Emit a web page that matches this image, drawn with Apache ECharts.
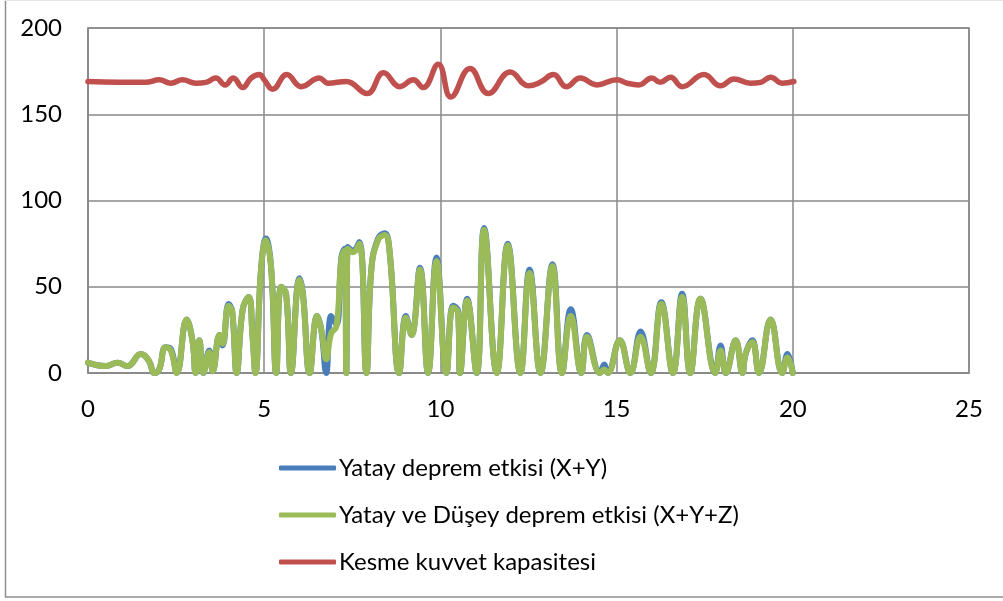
<!DOCTYPE html>
<html lang="tr">

<head>
    <meta charset="UTF-8">
    <title>Kesme kuvveti</title>
    <script src="https://cdn.jsdelivr.net/npm/echarts@6/dist/echarts.min.js"></script>
    <style>
        html, body { margin: 0; padding: 0; background: #fff; }
        #mChart { width: 1003px; height: 601px; }
    </style>
</head>

<body>
    <div id="mChart"></div>

    <script type="text/javascript">
        // [zaman, değer] çiftleri
        const yatay = [
            [0, 6], [0.5, 4], [0.84, 6], [1.12, 4], [1.5, 11], [1.73, 7], [1.88, 0], [2.02, 2], [2.2, 15], [2.35, 14],
            [2.52, 0], [2.8, 31], [2.97, 18], [3.05, 0], [3.16, 19], [3.27, 0], [3.44, 13], [3.54, 1], [3.73, 22], [3.82, 16],
            [3.99, 40], [4.09, 36], [4.22, 0], [4.39, 37], [4.56, 44], [4.67, 21], [4.75, 0], [4.91, 60], [5.05, 78], [5.2, 60],
            [5.34, 0], [5.48, 50], [5.62, 46], [5.76, 0], [6.0, 55], [6.1, 46], [6.29, 0], [6.5, 33], [6.62, 25], [6.76, 0],
            [6.9, 33], [7.05, 28], [7.19, 67], [7.28, 72], [7.33, 0], [7.37, 73], [7.52, 71], [7.7, 76], [7.9, 0], [8.04, 60],
            [8.23, 78], [8.42, 81], [8.56, 70], [8.83, 0], [9.02, 33], [9.18, 22], [9.42, 61], [9.65, 0], [9.89, 67], [10.17, 0],
            [10.36, 39], [10.5, 36], [10.56, 0], [10.76, 43], [11.03, 0], [11.24, 84], [11.6, 0], [11.91, 75], [12.27, 0], [12.53, 60],
            [12.84, 0], [13.18, 63], [13.45, 0], [13.7, 37], [14.0, 0], [14.16, 22], [14.53, 0], [14.65, 5], [14.75, 0], [15.09, 19],
            [15.39, 0], [15.68, 24], [15.97, 0], [16.27, 41], [16.6, 0], [16.86, 46], [17.09, 0], [17.38, 43], [17.8, 0], [17.95, 16],
            [18.1, 0], [18.38, 19], [18.57, 0], [18.66, 11], [18.85, 19], [19.04, 0], [19.37, 31], [19.7, 0], [19.85, 11], [20.0, 0]
        ]
        const yatayDusey = [
            [0, 6], [0.5, 4], [0.84, 6], [1.12, 4], [1.5, 11], [1.73, 7], [1.88, 0], [2.02, 2], [2.2, 15], [2.35, 13],
            [2.52, 0], [2.8, 31], [2.97, 18], [3.05, 0], [3.16, 19], [3.27, 0], [3.44, 12], [3.54, 1], [3.73, 22], [3.82, 17],
            [3.99, 39], [4.09, 36], [4.22, 0], [4.39, 37], [4.56, 44], [4.67, 21], [4.75, 0], [4.91, 60], [5.05, 77], [5.2, 60],
            [5.34, 0], [5.48, 50], [5.62, 46], [5.76, 0], [6.0, 54], [6.1, 45], [6.29, 0], [6.5, 33], [6.62, 25], [6.76, 8],
            [6.9, 23], [7.05, 27], [7.19, 66], [7.28, 71], [7.33, 0], [7.37, 72], [7.52, 70], [7.7, 75], [7.9, 0], [8.04, 60],
            [8.23, 77], [8.42, 80], [8.56, 70], [8.83, 0], [9.02, 32], [9.18, 22], [9.42, 60], [9.65, 0], [9.89, 65], [10.17, 0],
            [10.36, 38], [10.5, 35], [10.56, 0], [10.76, 42], [11.03, 0], [11.24, 83], [11.6, 0], [11.91, 74], [12.27, 0], [12.53, 58],
            [12.84, 0], [13.18, 62], [13.45, 0], [13.7, 33], [14.0, 0], [14.16, 21], [14.53, 0], [14.65, 2], [14.75, 0], [15.09, 19],
            [15.39, 0], [15.68, 21], [15.97, 0], [16.27, 40], [16.6, 0], [16.86, 44], [17.09, 0], [17.38, 43], [17.8, 0], [17.95, 13],
            [18.1, 0], [18.38, 19], [18.57, 0], [18.66, 11], [18.85, 18], [19.04, 0], [19.37, 31], [19.7, 0], [19.85, 9], [20.0, 0]
        ]
        const kapasite = [
            [0, 169], [1.64, 168.5], [2.02, 170], [2.35, 168], [2.68, 170], [3.06, 168], [3.35, 168.5], [3.63, 171], [3.89, 167], [4.12, 171],
            [4.39, 165.5], [4.63, 171], [4.86, 173], [5.0, 170], [5.24, 164.5], [5.64, 173], [6.05, 166], [6.57, 171], [6.81, 168], [7.33, 169],
            [7.92, 162], [8.39, 174], [8.85, 166], [9.23, 170], [9.51, 165.5], [9.94, 179], [10.3, 160], [10.84, 176.5], [11.36, 162], [11.98, 174.5],
            [12.5, 166.5], [12.83, 168.5], [13.21, 173], [13.57, 166], [13.97, 171], [14.44, 167], [15.01, 170], [15.3, 168], [15.63, 167], [16.0, 171],
            [16.24, 168.5], [16.53, 171.5], [16.86, 166], [17.48, 173], [17.95, 166.5], [18.33, 170.5], [18.8, 168], [19.09, 168.5], [19.37, 171.5], [19.7, 168],
            [20.03, 169]
        ]
        const xTicks = [0, 5, 10, 15, 20, 25]
        const yTicks = [0, 50, 100, 150, 200]

        const fontFam = 'Lato, "Open Sans", sans-serif'
        const gridColor = '#898989'

        var mChart = echarts.init(document.getElementById('mChart'), null, { renderer: 'canvas' })

        function line(name, data, color, w) {
            return {
                name: name,
                type: 'line',
                data: data,
                smooth: 0.45,
                showSymbol: false,
                symbol: 'none',
                lineStyle: { color: color, width: w, cap: 'round', join: 'round' },
                itemStyle: { color: color },
                animation: false
            }
        }

        mChart.setOption({
            backgroundColor: '#fff',
            textStyle: { fontFamily: fontFam },
            graphic: [{
                type: 'polyline',
                shape: { points: [[5.5, 0.5], [5.5, 597], [1003, 597]] },
                style: { stroke: '#8e8e8e', lineWidth: 1.5, fill: null }
            }, {
                type: 'line',
                shape: { x1: 5, y1: 0.5, x2: 1003, y2: 0.5 },
                style: { stroke: '#e6e6e6', lineWidth: 1 }
            }],
            grid: {
                left: 88, right: 34, top: 28, bottom: 228,
                show: true, borderColor: gridColor, borderWidth: 1.5,
                containLabel: false
            },
            legend: {
                orient: 'vertical',
                left: 274,
                top: 451,
                itemWidth: 57,
                itemHeight: 5,
                itemGap: 23,
                icon: 'roundRect',
                textStyle: { fontSize: 24, color: '#000', fontFamily: fontFam, padding: [0, 0, 0, -2] },
                data: ['Yatay deprem etkisi (X+Y)', 'Yatay ve Düşey deprem etkisi (X+Y+Z)', 'Kesme kuvvet kapasitesi']
            },
            xAxis: {
                type: 'value',
                min: xTicks[0],
                max: xTicks[xTicks.length - 1],
                interval: 5,
                axisLine: { show: true, lineStyle: { color: gridColor, width: 1.5 } },
                axisTick: { show: false },
                axisLabel: { fontSize: 24, color: '#000', margin: 24 },
                splitLine: { show: true, lineStyle: { color: gridColor, width: 1.5 } }
            },
            yAxis: {
                type: 'value',
                min: yTicks[0],
                max: yTicks[yTicks.length - 1],
                interval: 50,
                axisLine: { show: true, lineStyle: { color: gridColor, width: 1.5 } },
                axisTick: { show: false },
                axisLabel: { fontSize: 24, color: '#000', margin: 26 },
                splitLine: { show: true, lineStyle: { color: gridColor, width: 1.5 } }
            },
            series: [
                line('Yatay deprem etkisi (X+Y)', yatay, '#4a7ebb', 6),
                line('Yatay ve Düşey deprem etkisi (X+Y+Z)', yatayDusey, '#9bbb59', 6),
                line('Kesme kuvvet kapasitesi', kapasite, '#c0504d', 5.5)
            ]
        })
    </script>
</body>

</html>
